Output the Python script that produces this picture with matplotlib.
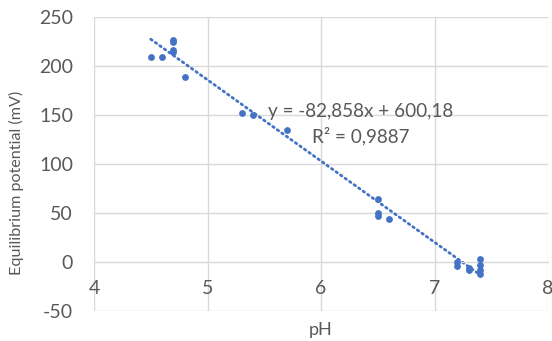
import numpy as np
import matplotlib
matplotlib.use("Agg")
import matplotlib.pyplot as plt

# measured points (pH, equilibrium potential in mV)
ph = [4.5, 4.6, 4.7, 4.7, 4.7, 4.7, 4.8, 5.3, 5.4, 5.7,
      6.5, 6.5, 6.5, 6.6, 7.2, 7.2, 7.3, 7.3, 7.4, 7.4, 7.4, 7.4]
potential = [209, 209, 227, 224, 216, 214, 189, 152, 150, 135,
             64, 50, 47, 44, 0, -4, -6, -8, 3, -3, -8, -12]

# excel trendline
slope = -82.858
intercept = 600.18
r2 = 0.9887

xticks = [4, 5, 6, 7, 8]
yticks = [-50, 0, 50, 100, 150, 200, 250]

blue = "#4472C4"
grey = "#595959"
gridc = "#D9D9D9"

plt.rcParams['font.family'] = ['Lato', 'DejaVu Sans']
plt.rcParams['axes.unicode_minus'] = False

W, H = 552, 341
fig = plt.figure(figsize=(W/100, H/100), dpi=100)
ax = fig.add_axes([94/W, 1 - 311/H, (548-94)/W, (311-17)/H])

ax.scatter(ph, potential, s=24, color=blue, zorder=3, linewidths=0)

xl = np.array([min(ph), max(ph)])
ax.plot(xl, slope*xl + intercept, color=blue, lw=2.0, linestyle=(0, (0.6, 1.4)),
        dash_capstyle='round', zorder=2)

ax.set_xlim(4, 8)
ax.set_ylim(-50, 250)
ax.set_xticks(xticks)
ax.set_yticks(yticks)
ax.grid(True, color=gridc, lw=1)
ax.set_axisbelow(True)

for s in ['top', 'right', 'left']:
    ax.spines[s].set_visible(False)
ax.spines['bottom'].set_position(('data', 0))
ax.spines['bottom'].set_color(gridc)
ax.tick_params(length=0, labelsize=14, colors=grey)
ax.tick_params(axis='y', pad=15)
ax.tick_params(axis='x', pad=13)

fig.text(321/W, 1 - 330/H, "pH", fontsize=13, color=grey, ha='center', va='center')
fig.text(16/W, 1 - 183/H, "Equilibrium potential (mV)", fontsize=11.6, color=grey,
         ha='center', va='center', rotation=90)

ax.text(6.35, 154, "y = -82,858x + 600,18", fontsize=13.6, color=grey,
        ha='center', va='center')
ax.text(6.35, 128, f"R² = {r2:.4f}".replace(".", ","), fontsize=13.6, color=grey,
        ha='center', va='center')

fig.savefig("out.png", dpi=100)
